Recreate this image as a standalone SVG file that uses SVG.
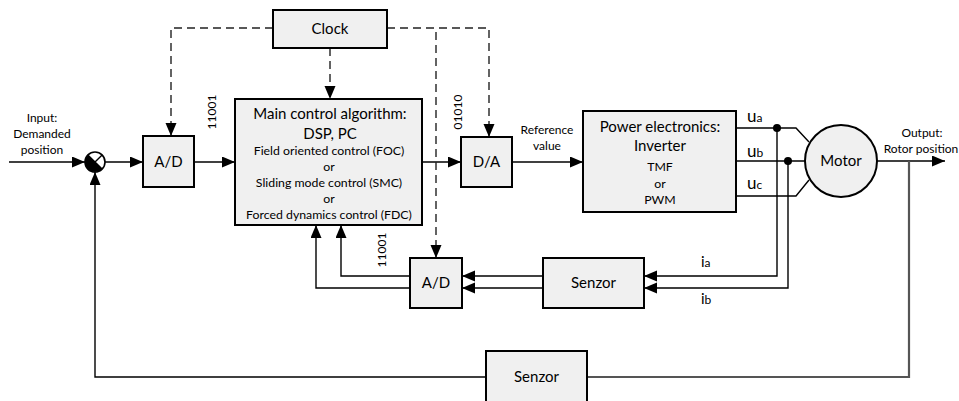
<svg xmlns="http://www.w3.org/2000/svg" width="959" height="401" viewBox="0 0 959 401">
<style>
.box{fill:#f0f0f0;stroke:#000;stroke-width:2}
.ln{fill:none;stroke:#000;stroke-width:1.4}
.ds{fill:none;stroke:#222;stroke-width:1.4;stroke-dasharray:8,5}
.gr{fill:none;stroke:#555;stroke-width:2.2}
text{font-family:Lato,"Open Sans","Liberation Sans",sans-serif;fill:#000;text-anchor:middle}
.big{font-size:15px}
.mid{font-size:15px}
.sm{font-size:12.3px}
.xs{font-size:12px}
</style>
<defs>
<marker id="ah" markerUnits="userSpaceOnUse" markerWidth="14" markerHeight="12" refX="13" refY="5.5" orient="auto">
<path d="M0,0 L13,5.5 L0,11 z" fill="#000"/>
</marker>
</defs>
<rect width="959" height="401" fill="#fff"/>
<g id="connectors">
<path class="ln" d="M9,162 H85" marker-end="url(#ah)"/>
<path class="ln" d="M105,162 H143" marker-end="url(#ah)"/>
<path class="ln" d="M194,162 H235" marker-end="url(#ah)"/>
<path class="ln" d="M422,162 H461" marker-end="url(#ah)"/>
<path class="ln" d="M512,162 H583" marker-end="url(#ah)"/>
<path class="ds" d="M273,28 H171 V136" marker-end="url(#ah)"/>
<path class="ds" d="M330,48 V99" marker-end="url(#ah)"/>
<path class="ds" d="M387,28 H489 V137" marker-end="url(#ah)"/>
<path class="ds" d="M436,32 V258" marker-end="url(#ah)"/>
<path class="ln" d="M736,128 H796 L809,142"/>
<path class="ln" d="M736,161 H805"/>
<path class="ln" d="M736,196 H796 L809,180"/>
<circle cx="777" cy="128" r="4" fill="#000"/>
<circle cx="788" cy="161" r="4" fill="#000"/>
<path class="ln" d="M777,128 V276 H644" marker-end="url(#ah)"/>
<path class="ln" d="M788,161 V288 H644" marker-end="url(#ah)"/>
<path class="ln" d="M543,276 H462" marker-end="url(#ah)"/>
<path class="ln" d="M543,288 H462" marker-end="url(#ah)"/>
<path class="ln" d="M410,276 H341 V225" marker-end="url(#ah)"/>
<path class="ln" d="M410,288 H316 V225" marker-end="url(#ah)"/>
<path class="ln" d="M877,161 H945" marker-end="url(#ah)"/>
<path class="gr" d="M909,161 V377 H587"/>
<path class="ln" d="M486,377 H95 V172" marker-end="url(#ah)"/>
</g>
<g id="sum">
<circle cx="95" cy="162" r="10" fill="#fff" stroke="#000" stroke-width="1.6"/>
<path d="M95,162 L87.9,154.9 A10,10 0 0 0 87.9,169.1 Z" fill="#000"/>
<path d="M95,162 L87.9,169.1 A10,10 0 0 0 102.1,169.1 Z" fill="#000"/>
<path class="ln" d="M87.9,154.9 L102.1,169.1 M102.1,154.9 L87.9,169.1"/>
</g>
<g id="clock">
<rect class="box" x="273" y="10" width="114" height="38"/>
<text class="mid" x="330" y="34">Clock</text>
</g>
<g id="ad1">
<rect class="box" x="143" y="136" width="51" height="51"/>
<text class="mid" x="168.5" y="167">A/D</text>
</g>
<g id="main">
<rect class="box" x="235" y="99" width="187" height="126"/>
<text class="big" x="330" y="119">Main control algorithm:</text>
<text class="big" x="330" y="139">DSP, PC</text>
<text class="sm" x="329" y="155">Field oriented control (FOC)</text>
<text class="sm" x="329" y="171">or</text>
<text class="sm" x="329" y="187">Sliding mode control (SMC)</text>
<text class="sm" x="329" y="203">or</text>
<text class="sm" x="329" y="219">Forced dynamics control (FDC)</text>
</g>
<g id="da">
<rect class="box" x="461" y="137" width="51" height="50"/>
<text class="mid" x="486.5" y="167">D/A</text>
</g>
<g id="power">
<rect class="box" x="583" y="111" width="153" height="101"/>
<text class="mid" x="660" y="132">Power electronics:</text>
<text class="mid" x="660" y="151">Inverter</text>
<text class="sm" x="660" y="171">TMF</text>
<text class="sm" x="660" y="188">or</text>
<text class="sm" x="660" y="204">PWM</text>
</g>
<g id="motor">
<circle cx="841" cy="161" r="36" fill="#f0f0f0" stroke="#000" stroke-width="2"/>
<text class="mid" x="841" y="166">Motor</text>
</g>
<g id="ad2">
<rect class="box" x="410" y="258" width="52" height="50"/>
<text class="mid" x="436" y="288">A/D</text>
</g>
<g id="senzor1">
<rect class="box" x="543" y="258" width="101" height="50"/>
<text class="mid" x="593.5" y="288">Senzor</text>
</g>
<g id="senzor2">
<rect class="box" x="486" y="351" width="101" height="60"/>
<text class="mid" x="536.5" y="382">Senzor</text>
</g>
<g id="labels">
<text class="xs" x="42" y="122">Input:</text>
<text class="xs" x="42" y="138">Demanded</text>
<text class="xs" x="42" y="154">position</text>
<text class="xs" x="547" y="134">Reference</text>
<text class="xs" x="547" y="150">value</text>
<text class="xs" x="922" y="137">Output:</text>
<text class="xs" x="921" y="153">Rotor position</text>
<text class="xs" transform="translate(216,112) rotate(-90)">11001</text>
<text class="xs" transform="translate(462,112) rotate(-90)">01010</text>
<text class="xs" transform="translate(386,250) rotate(-90)">11001</text>
<text x="747" y="122" style="font-size:17px;text-anchor:start">u<tspan style="font-size:12px">a</tspan></text>
<text x="747" y="157" style="font-size:17px;text-anchor:start">u<tspan style="font-size:12px">b</tspan></text>
<text x="747" y="189" style="font-size:17px;text-anchor:start">u<tspan style="font-size:12px">c</tspan></text>
<text x="701" y="267" style="font-size:15px;text-anchor:start">i<tspan style="font-size:12px">a</tspan></text>
<text x="701" y="304" style="font-size:15px;text-anchor:start">i<tspan style="font-size:12px">b</tspan></text>
</g>
</svg>
